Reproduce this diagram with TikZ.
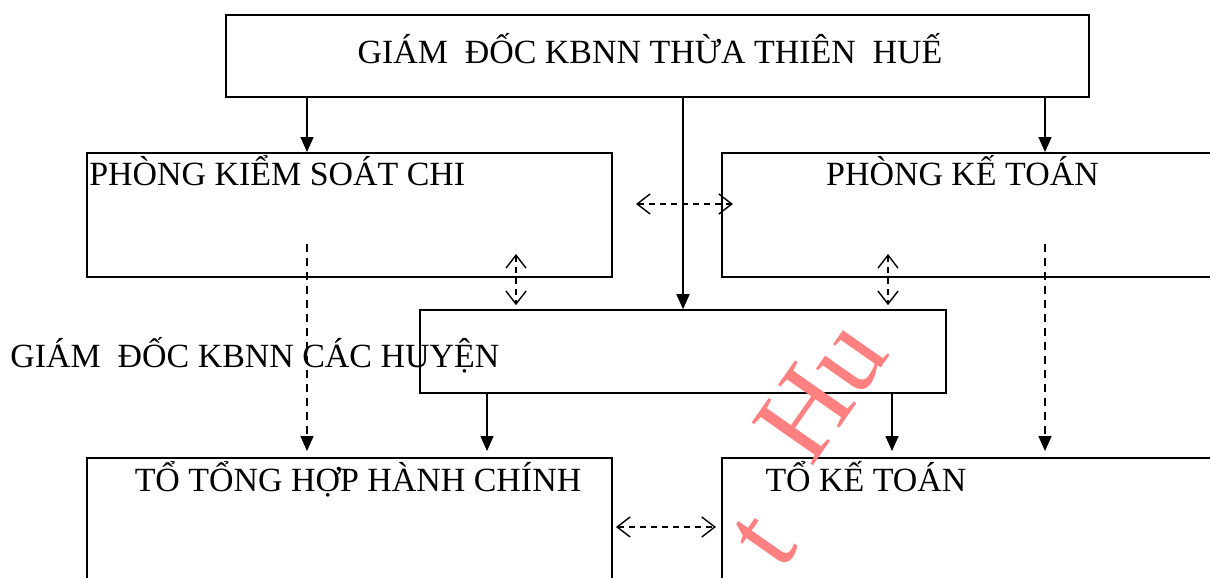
\documentclass[tikz,border=0pt]{standalone}
\usepackage{fontspec}
\setmainfont{Liberation Serif}
\usetikzlibrary{positioning,arrows.meta,calc}

\begin{document}
\begin{tikzpicture}[
  box/.style={draw, line width=1.1pt, inner sep=0pt},
  lbl/.style={font=\fontsize{19.3}{23}\selectfont, inner sep=0pt},
  arr/.style={-{Triangle[length=0.3cm,width=0.26cm]}, line width=0.8pt},
  darr/.style={arr, dash pattern=on 0.16cm off 0.12cm},
  both/.style={{Straight Barb[length=0.26cm,width=0.4cm]}-{Straight Barb[length=0.26cm,width=0.4cm]},
    line width=0.8pt, dash pattern=on 0.12cm off 0.1cm},
  wm/.style={font=\fontsize{65}{65}\selectfont, text=red!50, rotate=55, inner sep=0pt}
]
\useasboundingbox (0,0) rectangle (24.2,11.56);
\clip (0,0) rectangle (24.2,11.56);

% khung
\node[box, minimum width=17.26cm, minimum height=1.64cm] (gdtinh) at (13.15,10.44) {};
\node[box, minimum width=10.5cm, minimum height=2.48cm] (pksc) at (6.99,7.26) {};
\node[box, minimum width=10.5cm, minimum height=2.48cm, right=2.16cm of pksc] (pkt) {};
\node[box, line width=0.9pt, minimum width=10.52cm, minimum height=1.66cm] (huyen) at (13.66,4.53) {};
\node[box, minimum width=10.5cm, minimum height=2.48cm] (tth) at (6.99,1.16) {};
\node[box, minimum width=10.5cm, minimum height=2.48cm, right=2.16cm of tth] (tkt) {};

% chu
\node[lbl, anchor=base] (gdtinhtxt) at ([xshift=-0.15cm,yshift=-0.16cm]gdtinh.center) {GIÁM\ \ ĐỐC KBNN THỪA THIÊN\ \ HUẾ};
\node[lbl, anchor=base west] (pksctxt) at ([xshift=0.06cm,yshift=-0.66cm]pksc.north west) {PHÒNG KIỂM SOÁT CHI};
\node[lbl, anchor=base] (pkttxt) at ([xshift=4.83cm,yshift=-0.66cm]pkt.north west) {PHÒNG KẾ TOÁN};
\node[lbl, anchor=base west] (huyentxt) at (0.2,4.2) {GIÁM\ \ ĐỐC KBNN CÁC HUYỆN};
\node[lbl, anchor=base] (tthtxt) at ([xshift=5.44cm,yshift=-0.68cm]tth.north west) {TỔ TỔNG HỢP HÀNH CHÍNH};
\node[lbl, anchor=base] (tkttxt) at ([xshift=2.9cm,yshift=-0.68cm]tkt.north west) {TỔ KẾ TOÁN};

\coordinate (xa) at (6.14,0);
\coordinate (xb) at (20.9,0);
\coordinate (xc) at (10.32,0);
\coordinate (xd) at (17.76,0);
\coordinate (xe) at (9.74,0);
\coordinate (xf) at (17.84,0);

% chi dao truc tiep
\draw[arr] (gdtinh.south -| xa) -- (pksc.north -| xa);
\draw[arr] (gdtinh.south -| xb) -- (pkt.north -| xb);
\draw[arr] (gdtinh.south -| huyen.north) -- (huyen.north);
\draw[arr] (huyen.south -| xe) -- ($(tth.north -| xe)+(0,0.12)$);
\draw[arr] (huyen.south -| xf) -- ($(tkt.north -| xf)+(0,0.12)$);

% chi dao nghiep vu
\draw[darr] ($(pksc.south -| xa)+(0,0.68)$) -- ($(tth.north -| xa)+(0,0.12)$);
\draw[darr] ($(pkt.south -| xb)+(0,0.68)$) -- ($(tkt.north -| xb)+(0,0.12)$);

% phoi hop
\draw[both] ([xshift=0.46cm,yshift=0.22cm]pksc.east) -- ([xshift=0.24cm,yshift=0.22cm]pkt.west);
\draw[both] ($(pksc.south -| xc)+(0,0.48)$) -- ($(huyen.north -| xc)+(0,0.08)$);
\draw[both] ($(pkt.south -| xd)+(0,0.48)$) -- ($(huyen.north -| xd)+(0,0.08)$);
\draw[both] ([xshift=0.06cm,yshift=-0.14cm]tth.east) -- ([xshift=-0.1cm,yshift=-0.14cm]tkt.west);

% dau chim
\node[wm] (wmhu) at (16.42,3.76) {Hu};
\node[wm] (wmt) at (15.3,0.74) {t};
\end{tikzpicture}
\end{document}
